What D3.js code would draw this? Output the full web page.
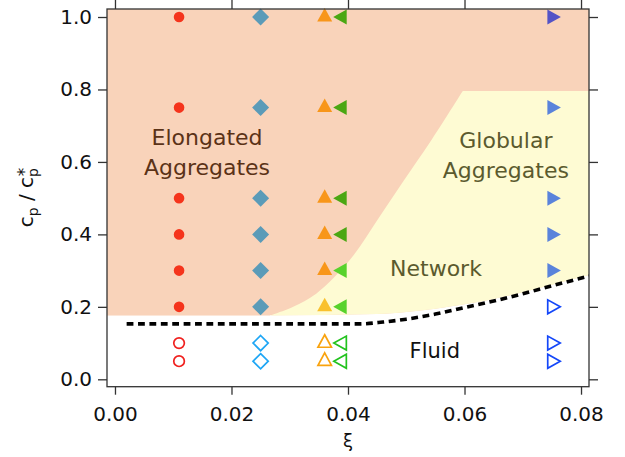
<!DOCTYPE html>
<html>
<head>
<meta charset="utf-8">
<script src="https://cdn.jsdelivr.net/npm/d3@7"></script>
<style>
  html, body { margin: 0; padding: 0; background: #fff; }
  svg { display: block; font-family: "DejaVu Sans", sans-serif; }
</style>
</head>
<body>
<svg id="chart" width="625" height="457"></svg>
<script>
// ---------------- DATA ----------------
const xTicks = [0.00, 0.02, 0.04, 0.06, 0.08];
const yTicks = [0.0, 0.2, 0.4, 0.6, 0.8, 1.0];
const xTickLabels = ["0.00", "0.02", "0.04", "0.06", "0.08"];
const yTickLabels = ["0.0", "0.2", "0.4", "0.6", "0.8", "1.0"];

const seriesShapes = ["circle", "diamond", "triUp", "triLeft", "triRight"];
const seriesXi = [0.011, 0.025, 0.036, 0.039, 0.075];
// filled symbols (aggregated states)
const filledCp = [
  [1.0, 0.75, 0.5, 0.4, 0.3, 0.2],
  [1.0, 0.75, 0.5, 0.4, 0.3, 0.2],
  [1.0, 0.75, 0.5, 0.4, 0.3, 0.2],
  [1.0, 0.75, 0.5, 0.4, 0.3, 0.2],
  [1.0, 0.75, 0.5, 0.4, 0.3]
];
const filledColors = [
  ["#F5341C", "#F5341C", "#F5341C", "#F5341C", "#F5341C", "#F5341C"],
  ["#5B9BB8", "#5B9BB8", "#5B9BB8", "#5B9BB8", "#5B9BB8", "#5B9BB8"],
  ["#F8961A", "#F8961A", "#F8961A", "#F8961A", "#F8961A", "#F9C12E"],
  ["#4BA713", "#4BA713", "#4BA713", "#4BA713", "#58D22C", "#58D22C"],
  ["#5453C6", "#5A83DB", "#5A83DB", "#5A83DB", "#5A83DB"]
];
// open symbols (fluid states)
const openCp = [
  [0.1, 0.05],
  [0.1, 0.05],
  [0.1, 0.05],
  [0.1, 0.05],
  [0.2, 0.1, 0.05]
];
const openColors = ["#F0201E", "#1EA6F5", "#F9A30E", "#22C31E", "#1447F9"];

// phase regions
const elongatedBottomCp = 0.176;
const globularTopCp = 0.796;
const gelBoundaryXi = [0.0597, 0.0541, 0.0495, 0.0455, 0.0403, 0.0346, 0.0306, 0.0266];
const gelBoundaryCp = [0.796, 0.655, 0.547, 0.451, 0.329, 0.237, 0.2006, 0.176];
const networkBottomXi = [0.0266, 0.045, 0.050, 0.055, 0.060, 0.065, 0.070, 0.075, 0.0814];
const networkBottomCp = [0.176, 0.180, 0.186, 0.195, 0.207, 0.222, 0.240, 0.261, 0.288];
const fluidLineXi = [0.002, 0.042, 0.046, 0.050, 0.055, 0.060, 0.065, 0.070, 0.075, 0.0814];
const fluidLineCp = [0.153, 0.153, 0.158, 0.166, 0.180, 0.198, 0.216, 0.236, 0.258, 0.285];

const regionLabels = [
  { lines: ["Elongated", "Aggregates"], xi: 0.0158, cp: [0.648, 0.565], color: "#5B3217", size: 22 },
  { lines: ["Globular", "Aggregates"], xi: 0.0671, cp: [0.638, 0.555], color: "#5B5A2E", size: 22 },
  { lines: ["Network"], xi: 0.0551, cp: [0.285], color: "#5B5A2E", size: 22 },
  { lines: ["Fluid"], xi: 0.0549, cp: [0.058], color: "#111111", size: 21 }
];

// ---------------- CHART ----------------
const svg = d3.select("#chart");
const pL = 107, pR = 589, pT = 9, pB = 386.7;

const x = d3.scaleLinear().domain([-0.00137, 0.08137]).range([pL, pR]);
const y = d3.scaleLinear().domain([-0.0204, 1.0221]).range([pB, pT]);

svg.append("defs").append("clipPath").attr("id", "plotclip")
  .append("rect").attr("x", pL).attr("y", pT).attr("width", pR - pL).attr("height", pB - pT);

const regions = svg.append("g").attr("clip-path", "url(#plotclip)");

const gelCurve = d3.line().x(d => x(d[0])).y(d => y(d[1])).curve(d3.curveCatmullRom.alpha(0.5));
const botCurve = d3.line().x(d => x(d[0])).y(d => y(d[1])).curve(d3.curveMonotoneX);
const gelPts = gelBoundaryXi.map((v, i) => [v, gelBoundaryCp[i]]);
const botPts = networkBottomXi.map((v, i) => [v, networkBottomCp[i]]);
const gelPath = gelCurve(gelPts);
const botPath = botCurve(botPts);
const xr = pR + 3;

// Elongated (salmon) region
regions.append("rect")
  .attr("x", pL).attr("y", pT)
  .attr("width", pR - pL)
  .attr("height", y(elongatedBottomCp) - pT)
  .attr("fill", "#F9D3BA");

// white area beneath the network region (fluid side)
const whiteD = botPath + "L" + xr + "," + y(networkBottomCp[networkBottomCp.length - 1]) +
  "L" + xr + "," + (y(elongatedBottomCp) + 2) +
  "L" + x(networkBottomXi[0]) + "," + (y(elongatedBottomCp) + 2) + "Z";
regions.append("path").attr("d", whiteD).attr("fill", "#fff");

// Network / Globular (yellow) region
const yellowD = "M" + xr + "," + y(globularTopCp) +
  "L" + gelPath.slice(1) +
  "L" + botPath.slice(1) +
  "L" + xr + "," + y(networkBottomCp[networkBottomCp.length - 1]) + "Z";
regions.append("path").attr("d", yellowD).attr("fill", "#FEFBD3");

// dashed fluid boundary
regions.append("path")
  .attr("d", d3.line().x(d => x(d[0])).y(d => y(d[1])).curve(d3.curveMonotoneX)(
    fluidLineXi.map((v, i) => [v, fluidLineCp[i]])))
  .attr("fill", "none")
  .attr("stroke", "#000")
  .attr("stroke-width", 3.6)
  .attr("stroke-dasharray", "6.8,4.6");

// region labels
regionLabels.forEach(l => {
  l.lines.forEach((t, i) => {
    svg.append("text")
      .attr("x", x(l.xi)).attr("y", y(l.cp[i]))
      .attr("text-anchor", "middle")
      .attr("font-size", l.size)
      .attr("fill", l.color)
      .text(t);
  });
});

// ---------------- MARKERS ----------------
function markerPath(shape, cx, cy, open) {
  const p = d3.path();
  if (shape === "circle") {
    const r = 5.3;
    p.moveTo(cx + r, cy); p.arc(cx, cy, r, 0, 2 * Math.PI);
  } else if (shape === "diamond") {
    const r = open ? 7.6 : 8.5;
    p.moveTo(cx, cy - r); p.lineTo(cx + r, cy); p.lineTo(cx, cy + r); p.lineTo(cx - r, cy); p.closePath();
  } else if (shape === "triUp") {
    const w = open ? 13.5 : 15, h = open ? 12.5 : 13.5;
    p.moveTo(cx, cy - 2 * h / 3); p.lineTo(cx + w / 2, cy + h / 3); p.lineTo(cx - w / 2, cy + h / 3); p.closePath();
  } else if (shape === "triLeft") {
    const w = open ? 12.5 : 13.5, h = open ? 14 : 15;
    p.moveTo(cx - 2 * w / 3, cy); p.lineTo(cx + w / 3, cy - h / 2); p.lineTo(cx + w / 3, cy + h / 2); p.closePath();
  } else if (shape === "triRight") {
    const w = open ? 12.5 : 13.5, h = open ? 14 : 15;
    p.moveTo(cx + 2 * w / 3, cy); p.lineTo(cx - w / 3, cy - h / 2); p.lineTo(cx - w / 3, cy + h / 2); p.closePath();
  }
  return p.toString();
}

const marks = svg.append("g");
seriesShapes.forEach((shape, s) => {
  filledCp[s].forEach((cp, i) => {
    marks.append("path")
      .attr("d", markerPath(shape, x(seriesXi[s]), y(cp), false))
      .attr("fill", filledColors[s][i]);
  });
  openCp[s].forEach(cp => {
    marks.append("path")
      .attr("d", markerPath(shape, x(seriesXi[s]), y(cp), true))
      .attr("fill", "none")
      .attr("stroke", openColors[s])
      .attr("stroke-width", 1.7);
  });
});

// ---------------- AXES ----------------
const axisColor = "#333";
const xAxisB = d3.axisBottom(x).tickValues(xTicks).tickFormat((d, i) => xTickLabels[i])
  .tickSize(8).tickSizeOuter(0).tickPadding(12);
const xAxisT = d3.axisTop(x).tickValues(xTicks).tickFormat("").tickSize(9).tickSizeOuter(0);
const yAxisL = d3.axisLeft(y).tickValues(yTicks).tickFormat((d, i) => yTickLabels[i])
  .tickSize(9).tickSizeOuter(0).tickPadding(6);
const yAxisR = d3.axisRight(y).tickValues(yTicks).tickFormat("").tickSize(9).tickSizeOuter(0);

function styleAxis(g) {
  g.select(".domain").remove();
  g.selectAll(".tick line").attr("stroke", axisColor).attr("stroke-width", 1.3);
  g.selectAll(".tick text").attr("fill", "#111").attr("font-size", 20)
    .attr("font-family", "DejaVu Sans, sans-serif");
}
svg.append("g").attr("transform", `translate(0,${pB})`).call(xAxisB).call(styleAxis);
svg.append("g").attr("transform", `translate(0,${pT})`).call(xAxisT).call(styleAxis);
svg.append("g").attr("transform", `translate(${pL},0)`).call(yAxisL).call(styleAxis);
svg.append("g").attr("transform", `translate(${pR},0)`).call(yAxisR).call(styleAxis);

// frame
svg.append("rect")
  .attr("x", pL).attr("y", pT)
  .attr("width", pR - pL).attr("height", pB - pT)
  .attr("fill", "none").attr("stroke", axisColor).attr("stroke-width", 1.3);

// axis titles
svg.append("text")
  .attr("x", (x(0) + x(0.08)) / 2).attr("y", 446.5)
  .attr("text-anchor", "middle").attr("font-size", 18).attr("fill", "#111")
  .text("ξ");

const yl = svg.append("text")
  .attr("transform", "translate(33,197.5) rotate(-90)")
  .attr("text-anchor", "middle").attr("font-size", 20).attr("fill", "#111");
yl.append("tspan").text("c");
yl.append("tspan").attr("font-size", 14).attr("dy", 5).text("p");
yl.append("tspan").attr("dy", -5).text(" / c");
yl.append("tspan").attr("font-size", 14).attr("dy", 5).text("p");
yl.append("tspan").attr("font-size", 17).attr("dy", -8).attr("dx", -8).text("*");
</script>
</body>
</html>
